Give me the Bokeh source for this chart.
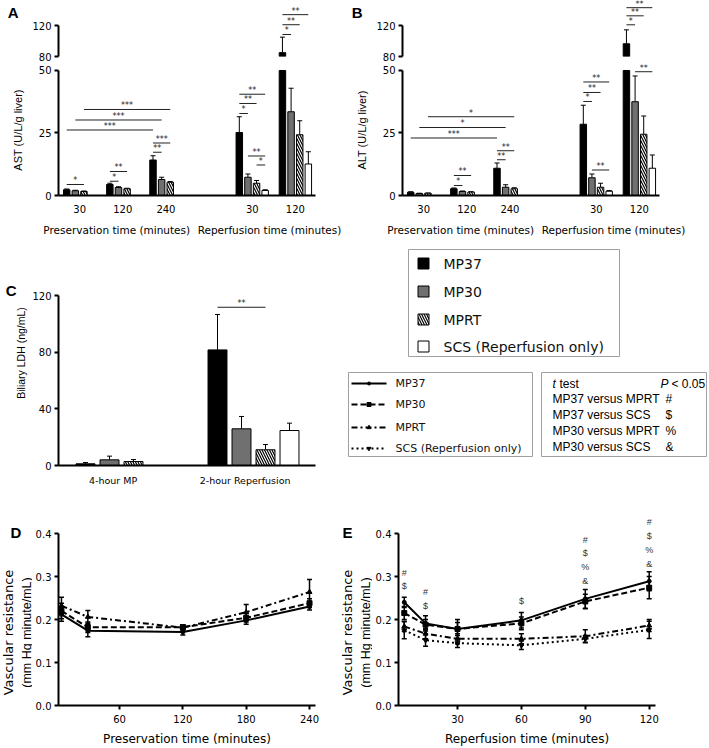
import numpy as np
from bokeh.plotting import figure
from bokeh.models import (Range1d, FixedTicker, Whisker, TeeHead, ColumnDataSource,
                          LinearAxis, NumeralTickFormatter)
from bokeh.layouts import row, column
from bokeh.embed import file_html
from bokeh.resources import INLINE
from bokeh.core.properties import value

NaN = float("nan")
SANS = "Liberation Sans"
WIDE = "DejaVu Sans"

# ------------------------------------------------------------------ data
series_names = ["MP37", "MP30", "MPRT", "SCS (Reperfusion only)"]

# Panels A / B : groups = preservation 30,120,240 ; reperfusion 30,120
bar_time_labels = ["30", "120", "240", "30", "120"]
bar_titles = ["Preservation time (minutes)", "Reperfusion time (minutes)"]

ast_mp37 = [2.3, 4.4, 14.2, 25.2, 85.0]
ast_mp30 = [1.9, 3.2, 6.4, 7.3, 33.5]
ast_mprt = [1.6, 2.7, 5.3, 4.9, 24.3]
ast_scs = [NaN, NaN, NaN, 2.0, 12.6]
ast_mp37_err = [0.3, 0.5, 1.7, 6.3, 20.0]
ast_mp30_err = [0.2, 0.3, 0.9, 1.3, 9.4]
ast_mprt_err = [0.2, 0.2, 0.3, 1.1, 5.6]
ast_scs_err = [NaN, NaN, NaN, 0.3, 4.9]

alt_mp37 = [1.3, 2.7, 10.9, 28.5, 96.4]
alt_mp30 = [0.8, 1.6, 3.3, 7.1, 37.5]
alt_mprt = [0.9, 1.4, 2.7, 3.3, 24.5]
alt_scs = [NaN, NaN, NaN, 1.7, 10.9]
alt_mp37_err = [0.2, 0.3, 2.1, 7.6, 18.0]
alt_mp30_err = [0.1, 0.2, 1.0, 1.5, 10.3]
alt_mprt_err = [0.1, 0.1, 0.4, 1.6, 7.3]
alt_scs_err = [NaN, NaN, NaN, 0.3, 5.3]

# significance brackets: (group a, series a, group b, series b, level, label)
ast_sig = [
    (0, 0, 0, 2, 4.4, "*"),
    (1, 0, 1, 1, 5.7, "*"), (1, 0, 1, 2, 9.6, "**"),
    (2, 0, 2, 1, 17.3, "**"), (2, 0, 2, 2, 21.0, "***"),
    (0, 0, 2, 0, 26.2, "***"), (0, 1, 2, 1, 30.2, "***"), (0, 2, 2, 2, 34.4, "***"),
    (3, 0, 3, 1, 32.8, "*"), (3, 0, 3, 2, 36.8, "**"), (3, 0, 3, 3, 40.5, "**"),
    (3, 1, 3, 3, 15.8, "**"), (3, 2, 3, 3, 12.2, "*"),
    (4, 0, 4, 1, 108.4, "*"), (4, 0, 4, 2, 121.0, "**"), (4, 0, 4, 3, 134.0, "**"),
]
alt_sig = [
    (1, 0, 1, 1, 4.0, "*"), (1, 0, 1, 2, 8.0, "**"),
    (2, 0, 2, 1, 14.3, "**"), (2, 0, 2, 2, 17.9, "**"),
    (0, 0, 2, 0, 23.0, "***"), (0, 1, 2, 1, 27.2, "*"), (0, 2, 2, 2, 31.5, "*"),
    (3, 0, 3, 1, 37.6, "*"), (3, 0, 3, 2, 41.2, "**"), (3, 0, 3, 3, 45.4, "**"),
    (3, 1, 3, 3, 10.2, "**"),
    (4, 1, 4, 3, 49.5, "**"),
    (4, 0, 4, 1, 120.9, "*"), (4, 0, 4, 2, 132.5, "**"), (4, 0, 4, 3, 143.0, "**"),
]

# Panel C
ldh_labels = ["4-hour MP", "2-hour Reperfusion"]
ldh_mp37 = [1.2, 81.6]
ldh_mp30 = [4.0, 25.9]
ldh_mprt = [2.8, 11.1]
ldh_scs = [NaN, 24.7]
ldh_mp37_err = [0.9, 25.0]
ldh_mp30_err = [2.6, 8.7]
ldh_mprt_err = [1.4, 3.7]
ldh_scs_err = [NaN, 5.2]
ldh_sig = [(1, 0, 1, 2, 111.7, "**")]

# Panel D (preservation)
d_times = [5, 30, 120, 180, 240]
d_mp37 = [0.212, 0.174, 0.171, 0.198, 0.230]
d_mp30 = [0.220, 0.182, 0.182, 0.204, 0.238]
d_mprt = [0.232, 0.206, 0.181, 0.217, 0.264]
d_mp37_err = [0.016, 0.014, 0.007, 0.009, 0.008]
d_mp30_err = [0.018, 0.012, 0.006, 0.010, 0.010]
d_mprt_err = [0.020, 0.015, 0.007, 0.018, 0.029]

# Panel E (reperfusion)
e_times = [5, 15, 30, 60, 90, 120]
e_mp37 = [0.240, 0.191, 0.178, 0.198, 0.248, 0.289]
e_mp30 = [0.215, 0.188, 0.178, 0.191, 0.242, 0.274]
e_mprt = [0.184, 0.167, 0.155, 0.155, 0.161, 0.186]
e_scs = [0.175, 0.152, 0.145, 0.140, 0.155, 0.176]
e_mp37_err = [0.012, 0.018, 0.022, 0.018, 0.022, 0.022]
e_mp30_err = [0.015, 0.012, 0.015, 0.015, 0.017, 0.026]
e_mprt_err = [0.012, 0.012, 0.012, 0.012, 0.015, 0.014]
e_scs_err = [0.020, 0.014, 0.010, 0.010, 0.008, 0.020]

e_sig_times = [5, 15, 60, 90, 120]
e_sig_symbols = ["#$", "#$", "$", "#$%&", "#$%&"]
e_sig_top = [0.309, 0.263, 0.242, 0.386, 0.426]

vr_title = "Vascular resistance"
vr_unit = "(mm Hg minute/mL)"

ttest_header = ["t", "test", "P", "< 0.05"]
ttest_rows = ["MP37 versus MPRT", "MP37 versus SCS", "MP30 versus MPRT", "MP30 versus SCS"]
ttest_syms = ["#", "$", "%", "&"]

# ------------------------------------------------------------------ styles
bar_styles = [
    dict(fill_color="black", line_color="black", line_width=1),
    dict(fill_color="#707070", line_color="black", line_width=1),
    dict(fill_color="white", line_color="black", line_width=1,
         hatch_pattern="\\", hatch_color="black", hatch_scale=5, hatch_weight=1.2),
    dict(fill_color="white", line_color="black", line_width=1),
]
line_styles = [
    dict(dash="solid", marker="circle", size=4),
    dict(dash="6 3", marker="square", size=5),
    dict(dash="6 3 2 3", marker="triangle", size=5),
    dict(dash="2 3", marker="inverted_triangle", size=5),
]

BASE = dict(output_backend="svg", toolbar_location=None)


def style(p):
    p.outline_line_color = None
    p.background_fill_color = "white"
    p.border_fill_color = "white"
    for g in p.grid:
        g.visible = False
    for ax in p.axis:
        ax.axis_line_width = 2
        ax.axis_line_color = "black"
        ax.major_tick_line_width = 2
        ax.major_tick_line_color = "black"
        ax.major_tick_in = 0
        ax.major_tick_out = 4
        ax.minor_tick_line_color = None
        ax.major_label_text_font = WIDE
        ax.major_label_text_font_size = "10px"
        ax.major_label_text_color = "black"
        ax.major_label_standoff = 3
        ax.axis_label_text_font_style = "normal"
        ax.axis_label_text_color = "black"


def bare_axis(**kw):
    base = dict(axis_line_color=None, major_tick_line_color=None, minor_tick_line_color=None,
                major_tick_out=0, major_tick_in=0, major_label_text_color="black",
                axis_label_text_color="black", axis_label_text_font_style="normal")
    base.update(kw)
    return LinearAxis(**base)


def letter_axis(p, y, text, standoff):
    p.add_layout(bare_axis(ticker=FixedTicker(ticks=[y]), major_label_overrides={y: text},
                           major_label_standoff=standoff, major_label_text_font=SANS,
                           major_label_text_font_size="15px",
                           major_label_text_font_style="bold"), "left")


def add_sig(p_lo, p_up, sig, slots, split=60):
    for ga, sa, gb, sb, lev, txt in sig:
        xa = slots[ga] + sa
        xb = slots[gb] + sb
        p = p_up if (p_up is not None and lev > split) else p_lo
        p.segment(x0=[xa], y0=[lev], x1=[xb], y1=[lev], line_color="#222222", line_width=1)
        p.text(x=[(xa + xb) / 2], y=[lev], text=[txt], text_font=value(WIDE),
               text_font_size="8px", text_align="center", text_baseline="bottom",
               y_offset=1, text_color="#222222")


def add_bars(p_lo, p_up, vals, errs, slots, width, cut=50.0, base_up=80.0):
    for s, (v, e) in enumerate(zip(vals, errs)):
        v = np.asarray(v, float)
        e = np.asarray(e, float)
        x = np.asarray(slots, float) + s
        ok = ~np.isnan(v)
        st = bar_styles[s]
        p_lo.vbar(x=x[ok], top=np.minimum(v[ok], cut), bottom=0, width=width, **st)
        small = ok & (v <= cut)
        src = ColumnDataSource(dict(x=x[small], lo=v[small], hi=v[small] + e[small]))
        p_lo.add_layout(Whisker(source=src, base="x", lower="lo", upper="hi",
                                upper_head=TeeHead(size=5, line_width=1, line_color="black"),
                                lower_head=None, line_width=1, line_color="black"))
        if p_up is not None:
            big = ok & (v > base_up)
            if big.any():
                p_up.vbar(x=x[big], top=v[big], bottom=base_up, width=width, **st)
                src2 = ColumnDataSource(dict(x=x[big], lo=v[big], hi=v[big] + e[big]))
                p_up.add_layout(Whisker(source=src2, base="x", lower="lo", upper="hi",
                                        upper_head=TeeHead(size=5, line_width=1, line_color="black"),
                                        lower_head=None, line_width=1, line_color="black"))


bar_slots = [0, 5, 10, 20, 25]
bar_title_pos = [5.8, 23.5]
PXU = 8.63  # px per bar step
X0 = -0.95


def bar_panel(vals, errs, sig, ylabel, let, left_border, right_border):
    xr = Range1d(X0, X0 + 257 / PXU)
    up = figure(frame_width=257, frame_height=56, x_range=xr,
                y_range=Range1d(80, 80 + 56 * 40 / 31), x_axis_type=None,
                min_border_left=left_border, min_border_right=right_border,
                min_border_top=0, min_border_bottom=8, **BASE)
    lo = figure(frame_width=257, frame_height=131, x_range=xr,
                y_range=Range1d(0, 50 + 6 / 2.51),
                min_border_left=left_border, min_border_right=right_border,
                min_border_top=0, min_border_bottom=45, **BASE)
    add_bars(lo, up, vals, errs, bar_slots, 0.75)
    add_sig(lo, up, sig, bar_slots)
    style(up)
    style(lo)
    up.yaxis.ticker = FixedTicker(ticks=[80, 120])
    up.yaxis.bounds = (80, 120)
    lo.yaxis.ticker = FixedTicker(ticks=[0, 25, 50])
    lo.yaxis.bounds = (0, 50)
    lo.yaxis.axis_label = ylabel
    lo.yaxis.axis_label_text_font = SANS
    lo.yaxis.axis_label_text_font_size = "11px"
    lo.yaxis.axis_label_standoff = 12
    ticks = [s + 1.5 for s in bar_slots]
    lo.xaxis.ticker = FixedTicker(ticks=ticks)
    lo.xaxis.major_label_overrides = {t: l for t, l in zip(ticks, bar_time_labels)}
    lo.xaxis.major_tick_line_color = None
    lo.xaxis.major_tick_out = 0
    lo.xaxis.major_label_standoff = 9
    lo.add_layout(bare_axis(ticker=FixedTicker(ticks=bar_title_pos),
                            major_label_overrides={t: l for t, l in zip(bar_title_pos, bar_titles)},
                            major_label_standoff=8, major_label_text_font=WIDE,
                            major_label_text_font_size="10.5px"), "below")
    letter_axis(up, 80 + (56 - 12) * 40 / 31, let, 11)
    return column(up, lo)


A = bar_panel([ast_mp37, ast_mp30, ast_mprt, ast_scs],
              [ast_mp37_err, ast_mp30_err, ast_mprt_err, ast_scs_err],
              ast_sig, "AST (U/L/g liver)", "A", 58, 33)
B = bar_panel([alt_mp37, alt_mp30, alt_mprt, alt_scs],
              [alt_mp37_err, alt_mp30_err, alt_mprt_err, alt_scs_err],
              alt_sig, "ALT (U/L/g liver)", "B", 50, 52)

# ------------------------------------------------------------------ C
ldh_slots = [0, 5.5]
CPX = 24.0
CX0 = -1.125
CPY = 170 / 120
C = figure(frame_width=257, frame_height=225, x_range=Range1d(CX0, CX0 + 257 / CPX),
           y_range=Range1d(0, 225 / CPY), min_border_left=58, min_border_right=25,
           min_border_top=0, min_border_bottom=30, **BASE)
add_bars(C, None, [ldh_mp37, ldh_mp30, ldh_mprt, ldh_scs],
         [ldh_mp37_err, ldh_mp30_err, ldh_mprt_err, ldh_scs_err], ldh_slots, 0.79, cut=1e9)
add_sig(C, None, ldh_sig, ldh_slots)
style(C)
C.yaxis.ticker = FixedTicker(ticks=[0, 40, 80, 120])
C.yaxis.bounds = (0, 120)
C.yaxis.axis_label = "Biliary LDH (ng/mL)"
C.yaxis.axis_label_text_font = SANS
C.yaxis.axis_label_text_font_size = "10.5px"
C.yaxis.axis_label_standoff = 2
cticks = [s + 1.15 for s in ldh_slots]
C.xaxis.ticker = FixedTicker(ticks=cticks)
C.xaxis.major_label_overrides = {t: l for t, l in zip(cticks, ldh_labels)}
C.xaxis.major_tick_line_color = None
C.xaxis.major_tick_out = 0
C.xaxis.major_label_standoff = 9
C.xaxis.major_label_text_font_size = "9.5px"
letter_axis(C, (465 - 290) / CPY, "C", -4)

# ------------------------------------------------------------------ legends (drawn in a blank panel, 1 unit = 1 px)
L = figure(frame_width=367, frame_height=225, x_range=Range1d(0, 367), y_range=Range1d(225, 0),
           x_axis_type=None, y_axis_type=None, min_border_left=0,
           min_border_right=0, min_border_top=0, min_border_bottom=30, **BASE)
L.outline_line_color = None
L.border_fill_color = "white"
L.quad(left=[68, 8, 201], right=[279, 192, 366], top=[9, 132, 132], bottom=[116, 216, 216],
       fill_color=None, line_color="#a0a0a0", line_width=1)
leg1_y = [23, 51, 79, 106]
for s in range(4):
    L.rect(x=[83], y=[leg1_y[s]], width=11, height=11, **bar_styles[s])
L.text(x=[103] * 4, y=leg1_y, text=series_names, text_font=value(WIDE),
       text_font_size="14px", text_baseline="middle", text_color="#111111")
leg2_y = [143, 164, 187, 208]
for s in range(4):
    st = line_styles[s]
    L.line(x=[11, 46], y=[leg2_y[s], leg2_y[s]], line_color="black", line_width=2,
           line_dash=st["dash"])
    L.scatter(x=[28.5], y=[leg2_y[s]], marker=st["marker"], size=st["size"] - 1,
              fill_color="black", line_color="black")
L.text(x=[55] * 4, y=leg2_y, text=series_names, text_font=value(WIDE),
       text_font_size="11px", text_baseline="middle", text_color="#111111")
row_y = [158, 174, 190, 206]
L.text(x=[212], y=[143], text=[ttest_header[0]], text_font=value(SANS), text_font_size="12px",
       text_font_style="italic", text_baseline="middle")
L.text(x=[219], y=[143], text=[ttest_header[1]], text_font=value(SANS), text_font_size="12px",
       text_baseline="middle")
L.text(x=[320], y=[143], text=[ttest_header[2]], text_font=value(SANS), text_font_size="12px",
       text_font_style="italic", text_baseline="middle")
L.text(x=[331], y=[143], text=[ttest_header[3]], text_font=value(SANS), text_font_size="12px",
       text_baseline="middle")
L.text(x=[212] * 4, y=row_y, text=ttest_rows, text_font=value(SANS), text_font_size="12px",
       text_baseline="middle")
L.text(x=[325] * 4, y=row_y, text=ttest_syms, text_font=value(SANS), text_font_size="12px",
       text_baseline="middle")


# ------------------------------------------------------------------ D / E
ROW3 = dict(frame_height=193, min_border_top=17, min_border_bottom=41)


def title_strip(width, let, let_x, title_x, unit_x):
    """Narrow blank panel (1 unit = 1 px, y measured up from the x axis) holding
    the panel letter and the two-line y-axis title."""
    f = figure(frame_width=width, x_range=Range1d(0, width), y_range=Range1d(0, 193),
               x_axis_type=None, y_axis_type=None, min_border_left=0, min_border_right=0,
               **ROW3, **BASE)
    f.outline_line_color = None
    f.border_fill_color = "white"
    f.text(x=[let_x], y=[173], text=[let], text_font=value(SANS), text_font_size="15px",
           text_font_style="bold", text_align="left", text_baseline="middle")
    f.text(x=[title_x], y=[73], text=[vr_title], angle=np.pi / 2, text_font=value(WIDE),
           text_font_size="13px", text_align="center", text_baseline="middle")
    f.text(x=[unit_x], y=[73], text=[vr_unit], angle=np.pi / 2, text_font=value(SANS),
           text_font_size="12.5px", text_align="center", text_baseline="middle")
    return f


def line_panel(times, vals, errs, x0, pxu, xticks, xlabel, right_border):
    p = figure(frame_width=257, x_range=Range1d(x0, x0 + 257 / pxu),
               y_range=Range1d(0, 0.4 + 21 / 430),
               min_border_left=26, min_border_right=right_border, **ROW3, **BASE)
    for s, (v, e) in enumerate(zip(vals, errs)):
        st = line_styles[s]
        v = np.asarray(v, float)
        e = np.asarray(e, float)
        p.line(times, v, line_color="black", line_width=2, line_dash=st["dash"])
        p.scatter(times, v, marker=st["marker"], size=st["size"], fill_color="black",
                  line_color="black")
        src = ColumnDataSource(dict(x=times, lo=v - e, hi=v + e))
        p.add_layout(Whisker(source=src, base="x", lower="lo", upper="hi",
                             upper_head=TeeHead(size=5, line_width=1.5, line_color="black"),
                             lower_head=TeeHead(size=5, line_width=1.5, line_color="black"),
                             line_width=1.5, line_color="black"))
    style(p)
    p.yaxis.ticker = FixedTicker(ticks=[0, 0.1, 0.2, 0.3, 0.4])
    p.yaxis.formatter = NumeralTickFormatter(format="0.0")
    p.yaxis.bounds = (0, 0.4)
    p.xaxis.ticker = FixedTicker(ticks=xticks)
    p.xaxis.major_label_standoff = 5
    p.xaxis.axis_label = xlabel
    p.xaxis.axis_label_text_font = WIDE
    p.xaxis.axis_label_text_font_size = "12px"
    p.xaxis.axis_label_standoff = 6
    return p


Dt = title_strip(32, "D", 10, 8, 26)
D = line_panel(d_times, [d_mp37, d_mp30, d_mprt], [d_mp37_err, d_mp30_err, d_mprt_err],
               2.2, 1.0556, [60, 120, 180, 240], "Preservation time (minutes)", 15)
Et = title_strip(42, "E", 12, 17, 35)
E = line_panel(e_times, [e_mp37, e_mp30, e_mprt, e_scs],
               [e_mp37_err, e_mp30_err, e_mprt_err, e_scs_err],
               2.3, 2.13, [30, 60, 90, 120], "Reperfusion time (minutes)", 51)
sx, sy, st_ = [], [], []
for t, syms, top in zip(e_sig_times, e_sig_symbols, e_sig_top):
    for i, ch in enumerate(syms):
        sx.append(t)
        sy.append(top - i * 0.032)
        st_.append(ch)
E.text(x=sx, y=sy, text=st_, text_font=value(SANS), text_font_size="9px",
       text_align="center", text_baseline="middle", text_color="#333333")

layout = column(row(A, B), row(C, L), row(Dt, D, Et, E))
open("out.html", "w").write(file_html(layout, INLINE))
